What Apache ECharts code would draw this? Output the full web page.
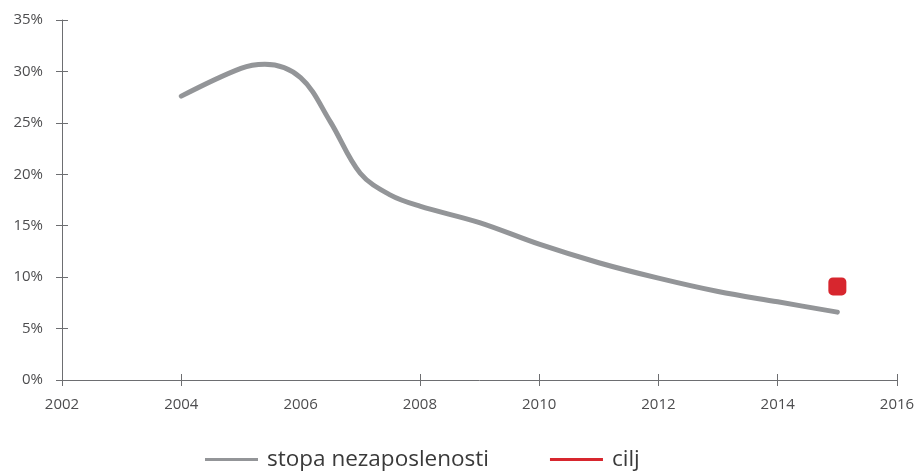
<!DOCTYPE html>
<html>
<head>
<meta charset="utf-8">
<script src="https://cdn.jsdelivr.net/npm/echarts@6/dist/echarts.min.js"></script>
<style>
  html, body { margin: 0; padding: 0; background: #fff; }
  #main { width: 918px; height: 473px; }
</style>
</head>
<body>
<div id="main"></div>
<script>
// godine i stopa nezaposlenosti (%), očitano sa krive
const years = [2004, 2005, 2005.4, 2006, 2006.5, 2007, 2007.5, 2008, 2009, 2010, 2011, 2012, 2013, 2014, 2015];
const rates = [27.6, 30.3, 30.7, 29.4, 25.1, 20.1, 18.0, 16.9, 15.3, 13.2, 11.4, 9.9, 8.6, 7.6, 6.6];
// ciljna vrijednost
const targetYear = 2015;
const targetRate = 9.1;
// oznake na x osi (2006 bez crtice)
const xTickValues = [2002, 2004, 2008, 2010, 2012, 2014, 2016];

const axisColor = '#6d6e71';
const labelStyle = { color: '#4d4d4f', fontSize: 15, fontFamily: 'Open Sans' };

let option = {
    animation: false,
    grid: { left: 62, right: 21, top: 20, bottom: 93 },
    xAxis: [{
        type: 'value',
        min: 2002, max: 2016, interval: 2,
        axisLine: { lineStyle: { color: axisColor } },
        axisTick: { show: true, length: 6, customValues: xTickValues, lineStyle: { color: axisColor } },
        axisLabel: Object.assign({ margin: 17, formatter: v => String(v) }, labelStyle),
        splitLine: { show: false }
    }, {
        type: 'value', position: 'bottom', offset: 0,
        min: 2002, max: 2016, interval: 2,
        axisLine: { show: false },
        axisTick: { show: true, inside: true, length: 6, customValues: xTickValues, lineStyle: { color: axisColor } },
        axisLabel: { show: false },
        splitLine: { show: false }
    }],
    yAxis: [{
        type: 'value',
        min: 0, max: 35, interval: 5,
        axisLine: { show: true, lineStyle: { color: axisColor } },
        axisTick: { show: true, length: 6, lineStyle: { color: axisColor } },
        axisLabel: Object.assign({ margin: 19, formatter: '{value}%' }, labelStyle),
        splitLine: { show: false }
    }, {
        type: 'value', position: 'left', offset: 0,
        min: 0, max: 35, interval: 5,
        axisLine: { show: false },
        axisTick: { show: true, inside: true, length: 6, lineStyle: { color: axisColor } },
        axisLabel: { show: false },
        splitLine: { show: false }
    }],
    legend: {
        bottom: -3,
        left: 200,
        itemWidth: 53,
        itemHeight: 3,
        itemGap: 61,
        icon: 'rect',
        textStyle: { color: '#3a3a3a', fontSize: 22.5, fontFamily: 'Open Sans', padding: [0, 0, 0, 4] },
        data: [
            { name: 'stopa nezaposlenosti', itemStyle: { color: '#939598', opacity: 1 } },
            { name: 'cilj', itemStyle: { color: '#d7262e', opacity: 1 } }
        ]
    },
    series: [{
        name: 'stopa nezaposlenosti',
        type: 'line',
        smooth: 0.35,
        showSymbol: false,
        lineStyle: { color: '#939598', width: 5, cap: 'round' },
        itemStyle: { color: '#939598' },
        data: years.map((y, i) => [y, rates[i]])
    }, {
        name: 'cilj',
        type: 'scatter',
        symbol: 'roundRect',
        symbolSize: 18,
        itemStyle: { color: '#d7262e', opacity: 1 },
        data: [[targetYear, targetRate]]
    }, {
        // prazna serija da se prikažu unutrašnje crtice
        type: 'line',
        xAxisIndex: 1,
        yAxisIndex: 1,
        silent: true,
        showSymbol: false,
        lineStyle: { opacity: 0 },
        data: []
    }]
};

echarts.init(document.getElementById('main')).setOption(option);
</script>
</body>
</html>
